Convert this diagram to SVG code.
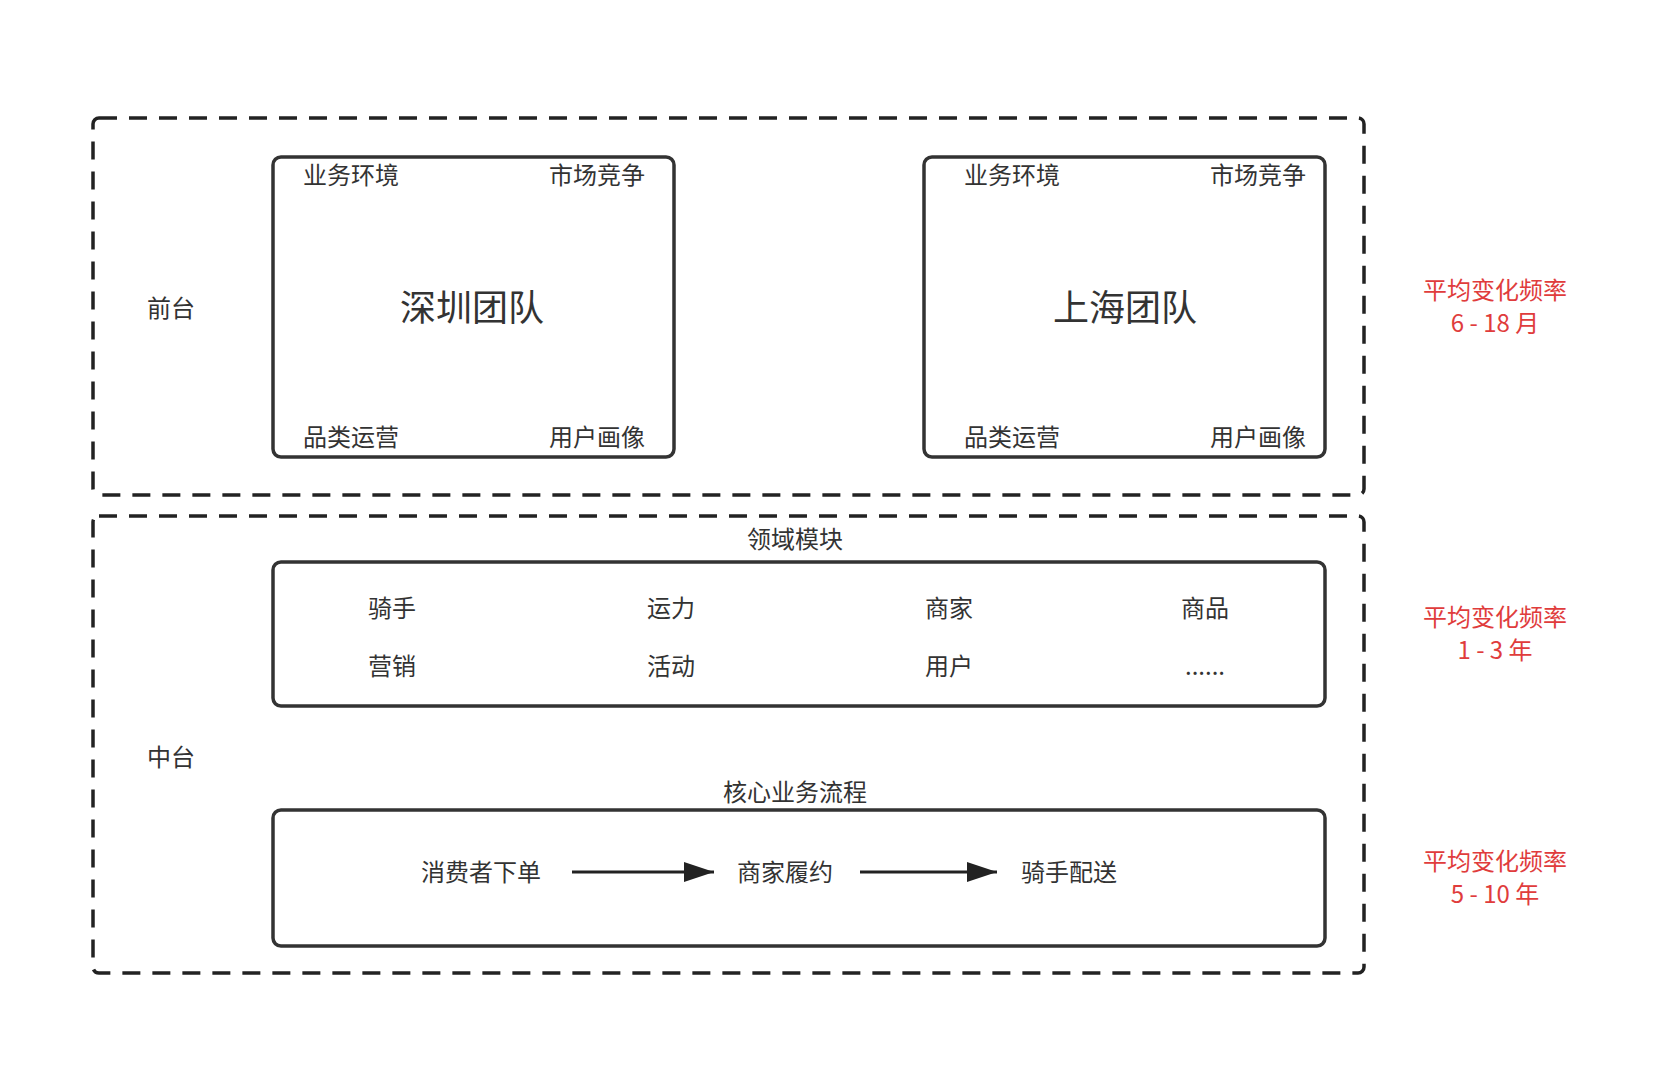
<svg xmlns="http://www.w3.org/2000/svg" width="1668" height="1090" viewBox="0 0 1668 1090">
<style>
text{font-family:"Noto Sans CJK SC","Noto Sans",sans-serif;fill:#333;text-anchor:middle;dominant-baseline:central}
.dash{fill:none;stroke:#222;stroke-width:3.5;stroke-dasharray:18 12}
.box{fill:#fff;stroke:#333;stroke-width:3.5}
.s{font-size:24px}.t{font-size:36px}.r{fill:#e03c3c;font-size:24px}
</style>
<defs><marker id="ah" viewBox="0 0 30 20" refX="30" refY="10" markerWidth="30" markerHeight="20" markerUnits="userSpaceOnUse" orient="auto"><path d="M0,0L30,10L0,20z" fill="#222"/></marker></defs>
<rect width="1668" height="1090" fill="#fff"/>
<g id="front"><rect class="dash" x="93" y="118" width="1271" height="377" rx="6"/><text class="s" x="171" y="306">前台</text></g>
<g id="middle"><rect class="dash" x="93" y="516" width="1271" height="457" rx="6"/><text class="s" x="171" y="755">中台</text></g>
<g id="shenzhen"><rect class="box" x="273" y="157" width="401" height="300" rx="8"/>
<text class="s" x="351" y="173">业务环境</text><text class="s" x="597" y="173">市场竞争</text>
<text class="s" x="351" y="435">品类运营</text><text class="s" x="597" y="435">用户画像</text>
<text class="t" x="472" y="305">深圳团队</text></g>
<g id="shanghai"><rect class="box" x="924" y="157" width="401" height="300" rx="8"/>
<text class="s" x="1012" y="173">业务环境</text><text class="s" x="1258" y="173">市场竞争</text>
<text class="s" x="1012" y="435">品类运营</text><text class="s" x="1258" y="435">用户画像</text>
<text class="t" x="1125" y="305">上海团队</text></g>
<g id="domain"><text class="s" x="795" y="537">领域模块</text><rect class="box" x="273" y="562" width="1052" height="144" rx="8"/>
<text class="s" x="392" y="606">骑手</text><text class="s" x="671" y="606">运力</text><text class="s" x="949" y="606">商家</text><text class="s" x="1205" y="606">商品</text>
<text class="s" x="392" y="664">营销</text><text class="s" x="671" y="664">活动</text><text class="s" x="949" y="664">用户</text><text class="s" x="1205" y="664">......</text></g>
<g id="core"><text class="s" x="795" y="790">核心业务流程</text><rect class="box" x="273" y="810" width="1052" height="136" rx="8"/>
<text class="s" x="481" y="870">消费者下单</text><text class="s" x="785" y="870">商家履约</text><text class="s" x="1069" y="870">骑手配送</text></g>
<g id="connectors" stroke="#222" stroke-width="3"><line x1="572" y1="872" x2="714" y2="872" marker-end="url(#ah)"/><line x1="860" y1="872" x2="997" y2="872" marker-end="url(#ah)"/></g>
<g id="freq"><text class="r" x="1495" y="288">平均变化频率</text><text class="r" x="1495" y="321">6 - 18 月</text>
<text class="r" x="1495" y="615">平均变化频率</text><text class="r" x="1495" y="648">1 - 3 年</text>
<text class="r" x="1495" y="859">平均变化频率</text><text class="r" x="1495" y="892">5 - 10 年</text></g>
</svg>
